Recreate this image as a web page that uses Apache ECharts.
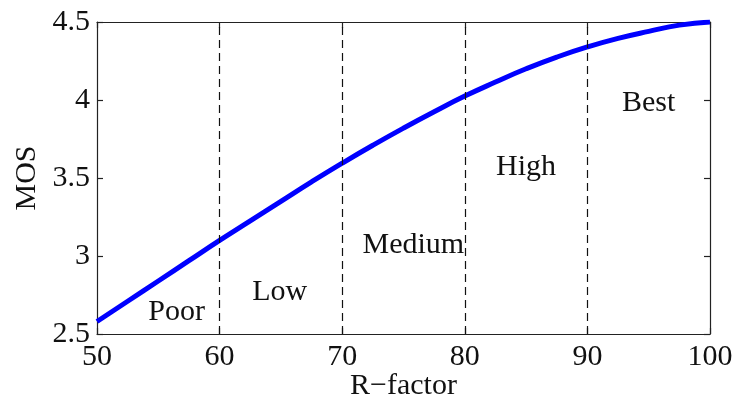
<!DOCTYPE html>
<html>
<head>
<meta charset="utf-8">
<script src="https://cdn.jsdelivr.net/npm/echarts@6/dist/echarts.min.js"></script>
<style>
  html, body { margin: 0; padding: 0; background: #fff; }
  #chart { width: 735px; height: 398px; }
</style>
</head>
<body>
<div id="chart"></div>
<script>
// R-factor samples and the MOS value read at each
const rFactor = [50, 52.5, 55, 57.5, 60, 62.5, 65, 67.5, 70, 72.5, 75, 77.5, 80, 82.5, 85, 87.5, 90, 92.5, 95, 97.5, 100];
const mos = [2.58, 2.71, 2.84, 2.97, 3.10, 3.225, 3.35, 3.475, 3.595, 3.71, 3.82, 3.925, 4.025, 4.115, 4.20, 4.275, 4.34, 4.395, 4.44, 4.48, 4.50];

// Quality band boundaries (dashed separators)
const bandEdges = [60, 70, 80, 90];

// Band names and where each name sits (R-factor, MOS)
const bandNames = ['Poor', 'Low', 'Medium', 'High', 'Best'];
const bandNameR = [56.5, 64.9, 75.8, 85.0, 95.0];
const bandNameMos = [2.64, 2.77, 3.07, 3.57, 3.98];

// Axis ticks
const xTicks = { min: 50, max: 100, step: 10 };
const yTicks = { min: 2.5, max: 4.5, step: 0.5 };

const FONT = '"Liberation Serif", "Times New Roman", serif';
const INK = '#222';
const TEXT = '#111';

const chart = echarts.init(document.getElementById('chart'), null, { renderer: 'canvas' });

const axisCommon = {
  axisLine: { show: true, lineStyle: { color: INK, width: 1.2 } },
  axisTick: { show: true, inside: true, length: 6, lineStyle: { color: INK, width: 1.2 } },
  splitLine: { show: false }
};

chart.setOption({
  animation: false,
  backgroundColor: '#fff',
  grid: { left: 97, right: 25, top: 22, bottom: 64, outerBoundsMode: 'none', containLabel: false },
  xAxis: [
    Object.assign({
      type: 'value', position: 'bottom',
      min: xTicks.min, max: xTicks.max, interval: xTicks.step,
      name: 'R\u2212factor', nameLocation: 'middle', nameGap: 37, nameMoveOverlap: false,
      nameTextStyle: { fontFamily: FONT, fontSize: 30, color: TEXT },
      axisLabel: { fontFamily: FONT, fontSize: 30, color: TEXT, margin: 8 }
    }, axisCommon),
    Object.assign({
      type: 'value', position: 'top',
      min: xTicks.min, max: xTicks.max, interval: xTicks.step,
      axisLabel: { show: false }
    }, axisCommon)
  ],
  yAxis: [
    Object.assign({
      type: 'value', position: 'left',
      min: yTicks.min, max: yTicks.max, interval: yTicks.step,
      name: 'MOS', nameLocation: 'middle', nameGap: 55, nameMoveOverlap: false,
      nameTextStyle: { fontFamily: FONT, fontSize: 30, color: TEXT },
      axisLabel: { fontFamily: FONT, fontSize: 30, color: TEXT, margin: 7,
        formatter: v => String(v) }
    }, axisCommon),
    Object.assign({
      type: 'value', position: 'right',
      min: yTicks.min, max: yTicks.max, interval: yTicks.step,
      axisLabel: { show: false }
    }, axisCommon)
  ],
  series: [
    {
      type: 'line',
      data: rFactor.map((r, i) => [r, mos[i]]),
      smooth: true,
      showSymbol: false,
      lineStyle: { color: '#0000ff', width: 5 },
      markLine: {
        silent: true,
        symbol: ['none', 'none'],
        label: { show: false },
        lineStyle: { color: TEXT, width: 1.2, type: [8, 5] },
        data: bandEdges.map(x => ({ xAxis: x }))
      },
      z: 3
    },
    {
      type: 'scatter',
      data: bandNames.map((n, i) => ({ value: [bandNameR[i], bandNameMos[i]], name: n })),
      symbolSize: 0,
      silent: true,
      itemStyle: { opacity: 1 },
      label: {
        show: true, position: 'inside',
        formatter: p => p.name,
        fontFamily: FONT, fontSize: 30, color: TEXT, opacity: 1
      },
      z: 4
    }
  ]
});
</script>
</body>
</html>
